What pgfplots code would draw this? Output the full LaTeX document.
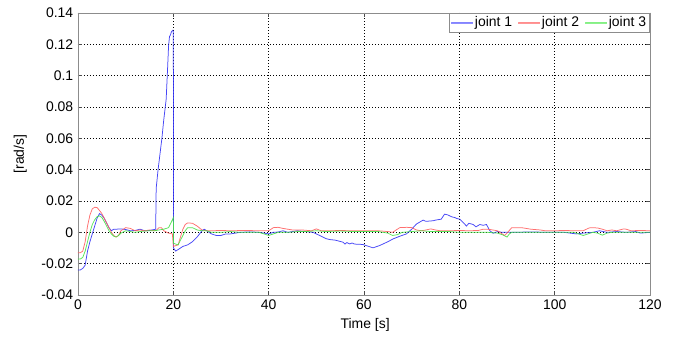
\documentclass[border=0pt]{standalone}
\usepackage{fontspec}
\setmainfont{Liberation Sans}
\usepackage{pgfplots}
\pgfplotsset{compat=1.18}

\definecolor{jblue}{RGB}{50,50,245}
\definecolor{jred}{RGB}{255,95,95}
\definecolor{jgreen}{RGB}{70,225,70}
\definecolor{lblue}{RGB}{130,130,255}
\definecolor{lred}{RGB}{255,140,140}
\definecolor{lgreen}{RGB}{130,240,130}

\begin{document}
\fontsize{14}{16}\selectfont
\begin{tikzpicture}
\begin{axis}[
  name=ax,
  scale only axis,
  width=572bp, height=282bp,
  xmin=0, xmax=120, ymin=-0.04, ymax=0.14,
  xtick={0,20,...,120},
  ytick={-0.04,-0.02,0,0.02,0.04,0.06,0.08,0.1,0.12,0.14},
  yticklabel style={/pgf/number format/fixed,/pgf/number format/precision=2},
  /pgf/number format/assume math mode=true,
  tick label style={font=\fontsize{14}{16}\selectfont},
  tick align=inside,
  major tick length=4bp,
  tick style={black!70, line width=0.5bp},
  axis line style={black!45, line width=0.8bp},
  grid=major,
  major grid style={black, line width=0.5bp, dash pattern=on 1bp off 2bp},
  xlabel={Time [s]},
  ylabel={[rad/s]},
  xlabel style={at={(axis description cs:0.502,-0.106)}, anchor=center, font=\fontsize{14}{16}\selectfont},
  ylabel style={at={(axis description cs:-0.101,0.5)}, anchor=center, font=\fontsize{14}{16}\selectfont},
  legend columns=3,
  legend style={at={(1,1)}, anchor=north east, draw=black!45, line width=0.8bp,
    fill=white, font=\fontsize{14}{16}\selectfont, inner sep=1.5bp,
    /tikz/every even column/.append style={column sep=4bp}},
  every axis plot/.append style={line width=0.75bp},
]
% joint 1
\addplot[jblue, opacity=0.9,
  legend image code/.code={\fill[lblue] (0bp,-0.5bp) rectangle (21bp,0.5bp);}]
 coordinates {
(0,-0.024) (0.5,-0.024) (1,-0.023) (1.5,-0.021) (2,-0.012) (2.5,-0.006)
(3,-0.001) (3.5,0.004) (4,0.009) (4.5,0.012) (5,0.011) (5.5,0.009)
(6,0.006) (6.5,0.003) (7,0.001) (7.5,0.002) (8,0.002) (9,0.0022)
(10,0.0018) (11,0.001) (12,0.0012) (13,0.002) (14,0.001) (15,0.0012)
(16,0.0018) (16.3,0.002) (16.4,0.028) (16.8,0.040) (17.2,0.050)
(17.6,0.060) (18,0.072) (18.5,0.085) (18.8,0.105) (19,0.119)
(19.2,0.125) (19.4,0.126) (19.6,0.128) (19.9,0.129) (20.0,0.128)
(20.05,-0.010) (20.5,-0.012) (21,-0.011) (21.5,-0.010) (22,-0.009)
(23,-0.008) (24,-0.006) (25,-0.003) (26,0.001) (26.5,0.002) (27,0.001)
(28,-0.001) (29,-0.002) (30,-0.002) (31,-0.001) (32,-0.001) (34,0.000)
(36,0.0003) (38,0.0) (40,-0.001) (41,0.000) (42,0.0002) (43,0.001)
(44,0.000) (46,0.001) (48,0.0004) (49.3,0.0) (50.7,-0.002) (52,-0.004)
(52.8,-0.0046) (54,-0.005) (55,-0.0058) (55.6,-0.0063) (56,-0.0075)
(56.4,-0.0065) (57,-0.0074) (57.5,-0.0068) (58,-0.0075) (59,-0.0076)
(59.8,-0.0078) (61,-0.009) (61.9,-0.0099) (63.3,-0.0084) (65,-0.006)
(66.1,-0.0042) (67.5,-0.0025) (68.9,-0.001) (70,0.002) (71,0.0053)
(72.4,0.0078) (73,0.007) (74.5,0.0074) (75,0.0078) (76.2,0.0084)
(76.9,0.0116) (77.5,0.0112) (78,0.0105) (78.5,0.0098) (79,0.0095)
(79.5,0.0088) (80.1,0.0084) (80.8,0.0063) (81.5,0.004) (82,0.0058)
(82.9,0.005) (83.5,0.0035) (84.3,0.005) (85,0.0045) (85.7,0.005)
(86.4,0.001) (87.1,-0.0006) (88,0.0005) (89,0.0) (90,0.0) (95,0.0002)
(100,0.0) (102,0.0) (104.5,-0.001) (106,-0.0005) (108,0.0) (109.4,0.001)
(111,0.0) (113,0.0005) (115,0.0) (117,0.0005) (118,-0.0005) (120,0.0)
};
\addlegendentry{joint 1}
% joint 2
\addplot[jred, opacity=0.9,
  legend image code/.code={\fill[lred] (0bp,-0.5bp) rectangle (21bp,0.5bp);}]
 coordinates {
(0,-0.013) (0.5,-0.013) (1,-0.012) (1.5,-0.006) (2,0.004) (2.5,0.011)
(3,0.015) (3.5,0.016) (4,0.0158) (4.5,0.014) (5,0.012) (5.5,0.009)
(6,0.006) (6.5,0.003) (7,0.000) (7.5,-0.002) (8,-0.003) (8.5,-0.002)
(9,0.001) (9.5,0.002) (10,0.003) (11,0.0025) (12,0.001) (13,0.0015)
(14,0.001) (15,0.0015) (16,0.001) (16.5,0.0015) (17,0.003) (17.5,0.003)
(18,0.001) (19,-0.0005) (19.8,-0.001) (20,-0.009) (20.5,-0.0085)
(21,-0.008) (21.5,-0.003) (22,0.002) (22.5,0.005) (23,0.006) (24,0.0058)
(25,0.004) (26,0.0015) (27,0.001) (28,0.001) (30,0.0012) (32,0.001)
(35,0.0012) (38,0.001) (40,0.001) (41,0.003) (42,0.0032) (43,0.0025)
(44,0.002) (45,0.0015) (47,0.0015) (49,0.001) (50,0.0022) (51,0.001)
(53,0.001) (55,0.0012) (57,0.001) (60,0.001) (63,0.001) (65,0.0005)
(66,0.0) (67,0.002) (67.5,0.003) (69,0.0032) (70,0.003) (71,0.0015)
(72,0.001) (73,0.0015) (74,0.0022) (75,0.0015) (76,0.001) (78,0.001)
(80,0.0012) (82,0.001) (84,0.0012) (85,0.002) (86,0.002) (87,0.0015)
(88,0.001) (89,-0.001) (89.5,-0.002) (90,-0.0005) (91,0.003) (93,0.003)
(95,0.002) (97,0.0015) (98,0.001) (100,0.001) (102,0.0012) (104,0.001)
(106,0.001) (107,0.0025) (107.5,0.003) (109,0.0028) (110,0.002)
(111,0.001) (112,0.0015) (113,0.001) (114.5,0.0022) (115,0.002)
(116,0.001) (118,0.0012) (120,0.001)
};
\addlegendentry{joint 2}
% joint 3
\addplot[jgreen, opacity=0.9,
  legend image code/.code={\fill[lgreen] (0bp,-0.5bp) rectangle (21bp,0.5bp);}]
 coordinates {
(0,-0.017) (0.5,-0.017) (1,-0.016) (1.5,-0.012) (2,-0.006) (2.5,0.000)
(3,0.005) (3.5,0.008) (4,0.010) (4.5,0.0105) (5,0.0095) (5.5,0.007)
(6,0.004) (6.5,0.001) (7,-0.001) (7.5,-0.0025) (8,-0.003) (8.5,-0.002)
(9,-0.0005) (10,0.001) (11,0.0005) (12,0.0) (13,0.0005) (14,0.0008)
(15,0.001) (16,0.001) (17,0.0015) (18,0.002) (19,0.003) (19.5,0.006)
(20,0.0095) (20.05,-0.007) (20.5,-0.0075) (21,-0.008) (21.5,-0.005)
(22,-0.002) (22.5,0.001) (23,0.003) (24,0.003) (25,0.0015) (26,0.001)
(27,0.001) (28,0.0) (30,0.0) (32,0.0005) (34,0.0) (36,0.0) (38,0.0)
(39,-0.001) (40,-0.002) (41,-0.001) (42,0.0) (44,0.0) (46,0.0005)
(48,0.0005) (50,0.001) (52,0.0005) (55,0.0008) (58,0.0005) (60,0.0005)
(63,0.0005) (65,-0.0005) (66,-0.002) (67,-0.0015) (68,0.0) (70,0.0005)
(72,0.001) (74,0.0005) (76,0.0005) (78,0.0005) (80,0.0) (82,0.0)
(84,0.0) (86,0.0) (88,-0.0005) (89,-0.0015) (90,-0.003) (90.5,-0.001)
(91,0.0) (95,0.0) (100,0.0) (104,0.0) (105,-0.001) (106,-0.002)
(107,-0.001) (108,0.0) (109,-0.0005) (110,-0.0018) (111,-0.0005)
(112,0.0) (115,0.0) (118,0.0) (120,0.0)
};
\addlegendentry{joint 3}
\end{axis}
\pgfresetboundingbox
\path ([shift={(-78bp,-44bp)}]ax.south west) rectangle ([shift={(29bp,13bp)}]ax.north east);
\end{tikzpicture}
\end{document}
